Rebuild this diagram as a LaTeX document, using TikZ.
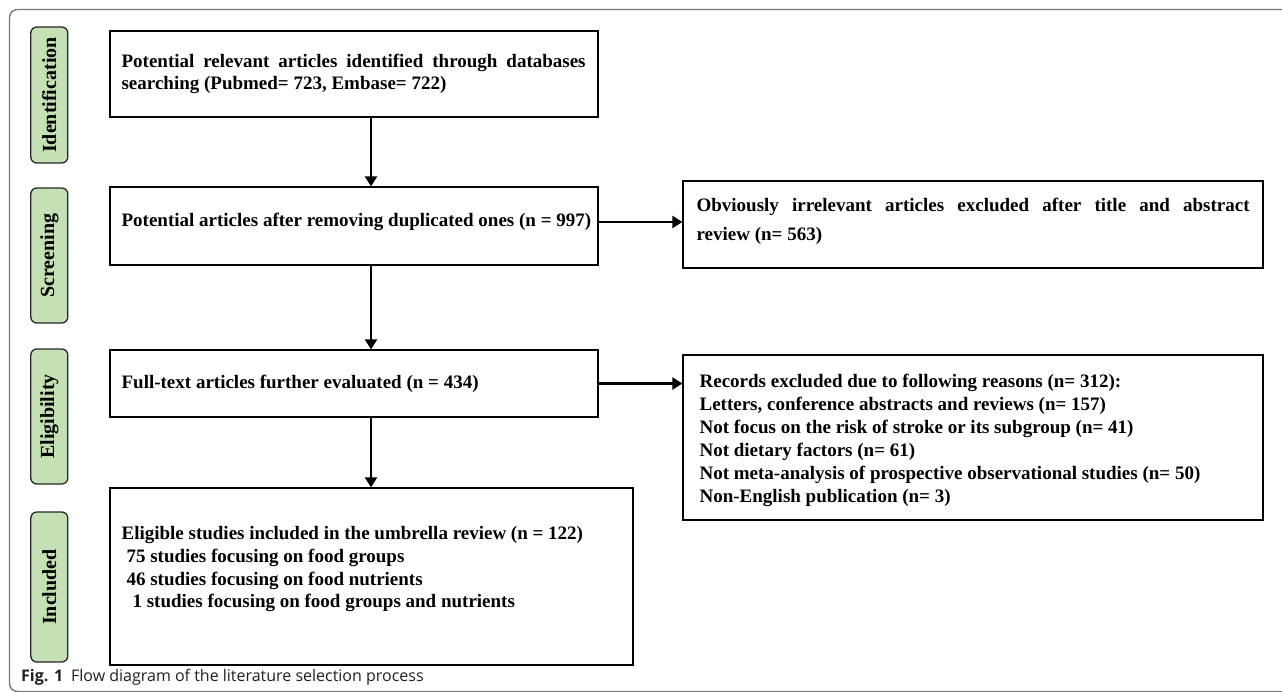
\documentclass[tikz,border=0pt]{standalone}
\usepackage{fontspec}
\setmainfont{Liberation Serif}
\newfontfamily\capfont{Open Sans}
\usetikzlibrary{arrows.meta,calc}
\definecolor{stagegreen}{HTML}{C5E0B4}
\definecolor{framegray}{HTML}{7A7A7A}
\definecolor{captext}{HTML}{231F20}
\tikzset{
  flowbox/.style={draw=black, line width=1.2pt, rectangle, inner sep=0pt},
  boxtext/.style={inner sep=0pt, font=\fontsize{19}{22}\selectfont\bfseries},
  stagebox/.style={draw=black!85, fill=stagegreen, line width=1.3pt, rounded corners=6pt, minimum width=37pt, inner sep=0pt, font=\fontsize{20}{22}\selectfont\bfseries},
  arr/.style={line width=2.2pt, -{Triangle[length=10pt,width=12pt]}},
}
\begin{document}
\begin{tikzpicture}[x=1pt,y=-1pt]
\useasboundingbox (0,0) rectangle (1282,691);
\begin{scope}
\clip (0,0) rectangle (1282,691);
\draw[framegray, line width=1.4pt, rounded corners=8pt] (9.5,9.5) rectangle (1320,691.5);
\end{scope}
% stage labels
\node[stagebox, minimum height=136pt] (s1) at (49.3,95) {\rotatebox{90}{Identification}};
\node[stagebox, minimum height=135pt] (s2) at (49.3,255.5) {\rotatebox{90}{Screening}};
\node[stagebox, minimum height=135pt] (s3) at (49.3,416.5) {\rotatebox{90}{Eligibility}};
\node[stagebox, minimum height=150pt] (s4) at (49.3,587) {\rotatebox{90}{Included}};
% main boxes
\node[flowbox, minimum width=488pt, minimum height=86pt] (b1) at (354,74) {};
\node[boxtext, anchor=west, text width=464pt, align=justify] (t1) at ($(b1.west)+(12,0)$) {Potential relevant articles identified through databases searching (Pubmed= 723, Embase= 722)};
\node[flowbox, minimum width=488pt, minimum height=78pt] (b2) at (354,226) {};
\node[boxtext, anchor=west] (t2) at ($(b2.west)+(12,-4)$) {Potential articles after removing duplicated ones (n = 997)};
\node[flowbox, minimum width=488pt, minimum height=67pt] (b3) at (354,383.5) {};
\node[boxtext, anchor=west] (t3) at ($(b3.west)+(12,0)$) {Full-text articles further evaluated (n = 434)};
\node[flowbox, minimum width=523pt, minimum height=177pt] (b4) at (371.5,576.5) {};
\node[boxtext, anchor=north west, align=left, font=\fontsize{19}{22.7}\selectfont\bfseries] (t4) at ($(b4.north west)+(12,39)$) {Eligible studies included in the umbrella review (n = 122)\\
\hspace*{5pt}75 studies focusing on food groups\\
\hspace*{5pt}46 studies focusing on food nutrients\\
\hspace*{11pt}1 studies focusing on food groups and nutrients};
\node[flowbox, minimum width=580pt, minimum height=87pt] (b5) at (973,224.5) {};
\node[boxtext, anchor=west, text width=553pt, align=justify, font=\fontsize{19}{29}\selectfont\bfseries] (t5) at ($(b5.west)+(14,-3)$) {Obviously irrelevant articles excluded after title and abstract\linebreak review (n= 563)};
\node[flowbox, minimum width=580pt, minimum height=165pt] (b6) at (973,437.5) {};
\node[boxtext, anchor=west, align=left, font=\fontsize{19}{23}\selectfont\bfseries] (t6) at ($(b6.west)+(17,3)$) {Records excluded due to following reasons (n= 312):\\
Letters, conference abstracts and reviews (n= 157)\\
Not focus on the risk of stroke or its subgroup (n= 41)\\
Not dietary factors (n= 61)\\
Not meta-analysis of prospective observational studies (n= 50)\\
Non-English publication (n= 3)};
% arrows
\coordinate (ax) at (371,0);
\draw[arr] (b1.south -| ax) -- (b2.north -| ax);
\draw[arr] (b2.south -| ax) -- (b3.north -| ax);
\draw[arr] (b3.south -| ax) -- (b4.north -| ax);
\draw[arr] ($(b2.east)+(0,-4)$) -- ($(b2.east -| b5.west)+(0,-4)$);
\draw[arr] (b3.east) -- (b3.east -| b6.west);
% caption
\node[anchor=west, inner sep=0pt, text=captext, font=\capfont\fontsize{16}{18}\selectfont] (cap) at (21,677) {\textbf{Fig. 1}\hspace{8pt}Flow diagram of the literature selection process};
\end{tikzpicture}
\end{document}
